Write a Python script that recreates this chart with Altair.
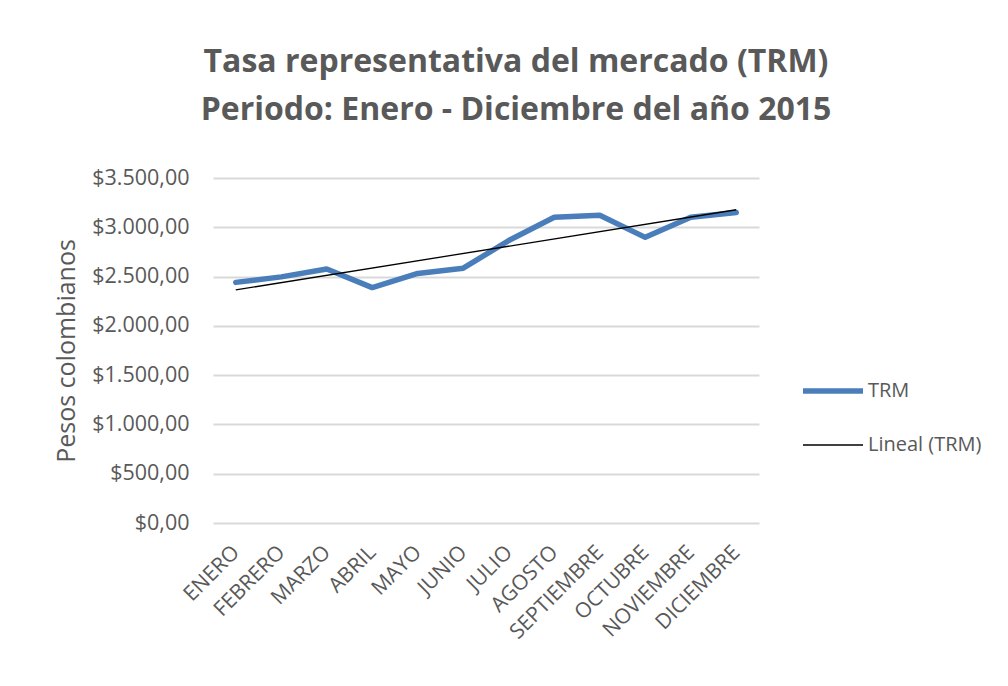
import altair as alt
import pandas as pd

meses = ["ENERO", "FEBRERO", "MARZO", "ABRIL", "MAYO", "JUNIO", "JULIO",
         "AGOSTO", "SEPTIEMBRE", "OCTUBRE", "NOVIEMBRE", "DICIEMBRE"]
indices = list(range(1, 13))
trm = [2441.10, 2496.99, 2576.05, 2388.06, 2531.39, 2585.11, 2866.04,
       3101.10, 3121.94, 2897.83, 3101.10, 3149.47]
y_ticks = [0, 500, 1000, 1500, 2000, 2500, 3000, 3500]
series_names = ["TRM", "Lineal (TRM)"]
series_colors = ["#4a7ebb", "#000000"]
series_widths = [5.5, 1.3]

df = pd.DataFrame({"idx": indices, "mes": meses, "value": trm, "series": "TRM"})

FONT = "Open Sans"
GRAY = "#595959"

label_arr = "[" + ",".join("'" + m + "'" for m in meses) + "]"

x_enc = alt.X(
    "idx:Q",
    scale=alt.Scale(domain=[0.5, 12.5], nice=False, zero=False),
    axis=alt.Axis(values=indices, labelExpr=label_arr + "[datum.value - 1]",
                  labelAngle=-45, labelAlign="right", labelBaseline="middle",
                  labelOverlap=False, labelBound=False, labelFlush=False,
                  labelFont=FONT, labelFontSize=21, labelColor=GRAY,
                  labelPadding=26, grid=False, domain=False, ticks=False,
                  title=None),
)
y_enc = alt.Y(
    "value:Q",
    scale=alt.Scale(domain=[0, 3500], nice=False),
    axis=alt.Axis(values=y_ticks,
                  labelExpr="'$' + replace(replace(replace(format(datum.value, ',.2f'), regexp(',', 'g'), '_'), regexp('[.]', 'g'), ','), regexp('_', 'g'), '.')",
                  labelFont=FONT, labelFontSize=21.5, labelColor=GRAY,
                  labelPadding=24, grid=True, gridColor="#d9d9d9", gridWidth=2,
                  domain=False, ticks=False,
                  title="Pesos colombianos", titleFont=FONT, titleFontSize=25,
                  titleFontWeight="normal", titleColor=GRAY, titlePadding=12),
)

legend_cfg = dict(title=None, orient="none", legendX=587, legendY=180,
                  symbolType="stroke", symbolSize=3600,
                  labelFont=FONT, labelFontSize=20, labelColor=GRAY,
                  labelOffset=2, rowPadding=12)

color_enc = alt.Color(
    "series:N",
    scale=alt.Scale(domain=series_names, range=series_colors),
    legend=alt.Legend(**legend_cfg),
)
sw_enc = alt.StrokeWidth(
    "series:N",
    scale=alt.Scale(domain=series_names, range=series_widths),
    legend=alt.Legend(**legend_cfg),
)

base = alt.Chart(df)

line = base.mark_line(strokeCap="round", strokeJoin="round").encode(
    x=x_enc, y=y_enc, color=color_enc, strokeWidth=sw_enc
)

trend = base.transform_regression("idx", "value").transform_calculate(
    series="'Lineal (TRM)'"
).mark_line().encode(
    x=x_enc, y=y_enc, color=color_enc, strokeWidth=sw_enc
)

chart = alt.layer(line, trend).properties(
    width=546,
    height=345,
    background="white",
    autosize=alt.AutoSizeParams(type="none"),
    padding={"left": 205, "top": 170, "right": 241, "bottom": 155},
    title=alt.Title(
        ["Tasa representativa del mercado (TRM)", "Periodo: Enero - Diciembre del año 2015"],
        font=FONT, fontSize=32, fontWeight="bold", color=GRAY,
        anchor="middle", lineHeight=48, offset=40, dx=30,
    ),
).configure_view(stroke=None)

chart.save("out.html", embed_options={"renderer": "svg", "actions": False})
